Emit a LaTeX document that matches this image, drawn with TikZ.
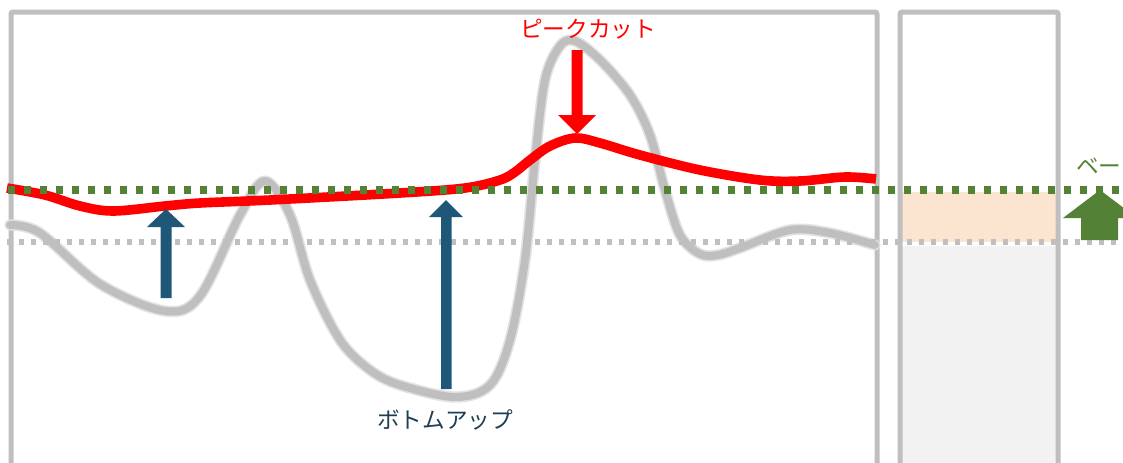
\documentclass[tikz,border=0pt]{standalone}
\usepackage{fontspec}
\newfontfamily\jpfont{Noto Sans CJK JP}
\definecolor{frameGray}{HTML}{BFBFBF}
\definecolor{peach}{HTML}{FBE5D0}
\definecolor{lightFill}{HTML}{F2F2F2}
\definecolor{baseGreen}{HTML}{538135}
\definecolor{upBlue}{HTML}{1F5779}
\definecolor{labelBlue}{HTML}{203E52}
\begin{document}
\begin{tikzpicture}[x=0.75pt,y=-0.75pt,
  framebox/.style={draw=frameGray,line width=3.75pt,rounded corners=1.5pt},
  greendots/.style={draw=baseGreen,line width=6pt,dash pattern=on 5.25pt off 6.75pt},
  graydots/.style={draw=frameGray,line width=3.9pt,dash pattern=on 3.75pt off 5.25pt},
  graycurve/.style={draw=frameGray,line width=6pt,line cap=round,line join=round},
  redcurve/.style={draw=red,line width=7.2pt,line join=round},
  lbl/.style={font=\jpfont\fontsize{17pt}{20pt}\selectfont,inner sep=0pt}]
\useasboundingbox (0,0) rectangle (1123,462);
\clip (0,0) rectangle (1123,462);
% fills of right column
\fill[peach] (900,192) rectangle (1058,242);
\fill[lightFill] (900,246) rectangle (1058,470);
% frames
\draw[framebox] (11,480) -- (11,12) -- (877,12) -- (877,480);
\draw[framebox] (900,480) -- (900,12) -- (1058,12) -- (1058,480);
% gray source curve (soft edge + core)
\draw[draw=frameGray!45,line width=8.5pt,line cap=round,line join=round]
  plot[smooth,tension=0.55] coordinates {(10,225) (40,233) (100,284) (165,311) (200,296) (240,215) (265,181) (290,215) (310,280) (340,340) (370,370) (400,385) (455,397) (490,385) (510,340) (525,260) (535,160) (545,80) (560,46) (575,41) (600,60) (630,95) (650,135) (665,190) (680,235) (700,254) (718,255) (740,248) (790,230) (830,233) (875,245)};
\draw[graycurve]
  plot[smooth,tension=0.55] coordinates {(10,225) (40,233) (100,284) (165,311) (200,296) (240,215) (265,181) (290,215) (310,280) (340,340) (370,370) (400,385) (455,397) (490,385) (510,340) (525,260) (535,160) (545,80) (560,46) (575,41) (600,60) (630,95) (650,135) (665,190) (680,235) (700,254) (718,255) (740,248) (790,230) (830,233) (875,245)};
% gray dotted lower line
\draw[graydots] (7,242) -- (1123,242);
% red curve
\draw[redcurve]
  plot[smooth,tension=0.55] coordinates {(7,188) (45,195) (80,206) (113,211) (165,206) (200,203) (270,200) (400,193) (465,188) (500,180) (515,172) (530,160) (550,146) (575,138) (600,143) (640,155) (700,170) (760,180) (800,181) (845,177) (876,179)};
% green dotted baseline
\draw[greendots] (8,190) -- (1123,190);
% blue up arrows
\fill[upBlue] (160.5,298) -- (171.5,298) -- (171.5,227) -- (185,227) -- (166,209) -- (147,227) -- (160.5,227) -- cycle;
\fill[upBlue] (441,389) -- (451.5,389) -- (451.5,217) -- (463,217) -- (446,200) -- (429,217) -- (441,217) -- cycle;
% red down arrow
\fill[red] (571.5,50) -- (582.5,50) -- (582.5,115) -- (596,115) -- (577,134) -- (558,115) -- (571.5,115) -- cycle;
% green up block arrow
\fill[baseGreen] (1081,240) -- (1118,240) -- (1118,218) -- (1137,218) -- (1100,190) -- (1063,218) -- (1081,218) -- cycle;
% labels
\node[lbl,text=red] (peak) at (588,29) {ピークカット};
\node[lbl,text=labelBlue] (bottom) at (445,420) {ボトムアップ};
\node[lbl,text=baseGreen,anchor=west] (base) at (1076,166) {ベー};
\end{tikzpicture}
\end{document}
